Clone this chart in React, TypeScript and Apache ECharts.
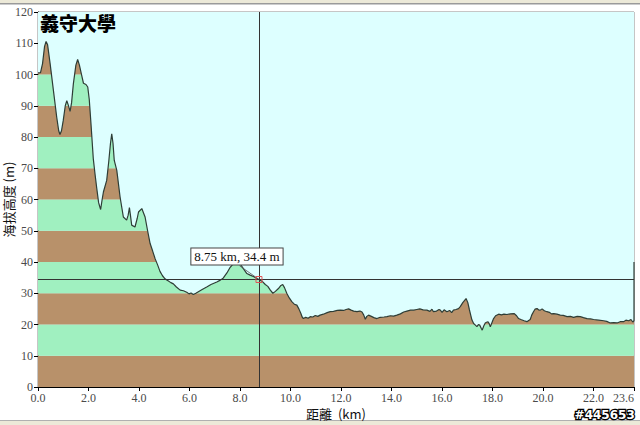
import React, { useEffect, useRef } from 'react';
import * as echarts from 'echarts';

// Elevation profile (distance in km, elevation in m)
const distanceKm = [
  0.0, 0.1, 0.18, 0.26, 0.32, 0.38, 0.48, 0.61, 0.74, 0.82, 0.87, 0.93, 1.0, 1.08, 1.14, 1.2, 1.27, 1.33, 1.4, 1.5,
  1.57, 1.64, 1.73, 1.8, 1.9, 1.97, 2.03, 2.1, 2.19, 2.26, 2.32, 2.4, 2.48, 2.54, 2.59, 2.72, 2.8, 2.87, 2.92, 2.97,
  3.02, 3.12, 3.25, 3.38, 3.51, 3.57, 3.62, 3.66, 3.71, 3.84, 3.93, 3.98, 4.11, 4.24, 4.34, 4.44, 4.54, 4.64, 4.74, 4.83,
  4.93, 5.03, 5.15, 5.26, 5.36, 5.48, 5.63, 5.76, 5.89, 5.98, 6.06, 6.15, 6.25, 6.35, 6.5, 6.68, 6.85, 7.08, 7.22, 7.34,
  7.48, 7.61, 7.72, 7.82, 7.92, 8.02, 8.14, 8.27, 8.4, 8.55, 8.65, 8.75, 8.88, 9.0, 9.1, 9.2, 9.3, 9.4, 9.52, 9.62,
  9.69, 9.76, 9.85, 9.95, 10.05, 10.15, 10.25, 10.33, 10.41, 10.46, 10.51, 10.6, 10.7, 10.78, 10.88, 10.98, 11.08, 11.17, 11.3, 11.45,
  11.57, 11.7, 11.85, 11.97, 12.1, 12.2, 12.3, 12.4, 12.5, 12.63, 12.75, 12.83, 12.9, 12.96, 13.02, 13.09, 13.2, 13.3, 13.42, 13.55,
  13.7, 13.82, 13.95, 14.08, 14.21, 14.35, 14.48, 14.61, 14.75, 14.88, 15.0, 15.12, 15.25, 15.4, 15.52, 15.6, 15.66, 15.78, 15.88, 15.93,
  16.0, 16.08, 16.19, 16.3, 16.38, 16.45, 16.55, 16.65, 16.72, 16.82, 16.95, 17.02, 17.08, 17.12, 17.18, 17.25, 17.32, 17.38, 17.44, 17.49,
  17.55, 17.59, 17.65, 17.71, 17.76, 17.82, 17.87, 17.91, 17.97, 18.04, 18.12, 18.24, 18.35, 18.45, 18.57, 18.7, 18.86, 18.95, 19.03, 19.12,
  19.25, 19.36, 19.43, 19.49, 19.55, 19.62, 19.68, 19.76, 19.82, 19.89, 19.96, 20.05, 20.15, 20.25, 20.33, 20.42, 20.55, 20.68, 20.8, 20.95,
  21.08, 21.21, 21.35, 21.47, 21.6, 21.74, 21.88, 22.0, 22.2, 22.4, 22.52, 22.66, 22.8, 22.93, 23.05, 23.19, 23.28, 23.39, 23.48, 23.55,
  23.6, 23.6,
];
const elevationM = [
  100.5, 100.6, 103.5, 109.0, 110.6, 109.5, 103.5, 94.9, 86.4, 82.0, 80.8, 82.0, 85.3, 90.0, 91.6, 90.2, 88.2, 91.0, 97.0, 103.0,
  104.8, 103.0, 99.7, 97.2, 96.8, 96.0, 92.0, 84.0, 73.0, 68.0, 64.0, 59.0, 56.8, 60.0, 62.4, 66.1, 72.0, 78.0, 81.0, 78.0,
  72.5, 69.3, 60.8, 54.4, 53.4, 55.0, 57.4, 55.0, 51.8, 51.2, 54.0, 56.0, 57.1, 54.4, 50.0, 45.9, 43.5, 41.0, 39.0, 37.0,
  35.6, 34.6, 34.0, 33.4, 33.0, 32.0, 31.0, 30.8, 30.3, 29.8, 30.1, 29.6, 30.0, 30.5, 31.2, 32.0, 32.8, 33.6, 34.2, 34.9,
  36.5, 38.3, 39.3, 39.6, 39.9, 39.2, 37.8, 36.3, 35.8, 35.3, 34.8, 34.4, 33.8, 32.8, 32.2, 31.0, 30.0, 30.6, 31.5, 32.5,
  32.8, 31.8, 30.0, 28.5, 27.3, 26.5, 26.2, 25.0, 23.5, 22.4, 21.9, 22.3, 22.0, 22.5, 22.4, 22.9, 22.6, 23.0, 23.3, 23.8,
  24.1, 24.2, 24.5, 24.6, 24.5, 24.8, 25.0, 24.6, 24.3, 24.1, 24.3, 24.0, 23.0, 21.7, 22.6, 23.0, 22.6, 22.2, 21.9, 22.3,
  22.4, 22.5, 22.8, 22.7, 23.0, 23.4, 24.0, 24.3, 24.6, 24.6, 24.8, 25.0, 24.7, 24.6, 24.2, 24.9, 24.1, 24.3, 24.8, 24.6,
  23.9, 24.7, 24.1, 24.5, 23.8, 24.6, 24.8, 25.1, 25.7, 27.0, 28.3, 27.0, 24.8, 23.5, 21.5, 20.3, 19.8, 19.3, 20.0, 19.8,
  18.8, 18.2, 19.5, 20.5, 20.7, 20.9, 20.2, 19.3, 20.5, 21.9, 22.8, 23.3, 23.1, 23.3, 23.2, 23.4, 23.5, 22.8, 21.9, 21.6,
  21.2, 20.9, 21.3, 21.6, 23.0, 24.1, 24.9, 25.1, 24.7, 24.6, 25.0, 24.4, 24.1, 23.9, 23.4, 23.5, 23.3, 23.0, 22.9, 22.5,
  22.6, 22.3, 22.6, 22.5, 22.2, 21.9, 21.8, 21.6, 21.4, 21.2, 21.0, 20.5, 20.6, 20.5, 20.9, 20.9, 21.4, 21.2, 21.6, 20.8,
  21.2, 40.0,
];

// Alternating elevation bands (m)
const bandEdges = [0, 10, 20, 30, 40, 50, 60, 70, 80, 90, 100, 110, 120];
const bandColors = ['#b8916a', '#a0f0c0'];

// Cursor readout
const cursorKm = 8.75;
const cursorM = 34.4;
const cursorText = '8.75 km, 34.4 m';
const calloutFrom = [7.98, 38.8];

const titleText = '義守大學';
const xName = '距離  (km)';
const yName = '海拔高度 (m)';
const watermark = '#445653';

const SKY = '#ddffff';
const SERIF = '"Liberation Serif", "DejaVu Serif", serif';
const CJK = '"Noto Sans CJK TC", "Noto Sans CJK SC", sans-serif';

export default function App() {
  const ref = useRef<HTMLDivElement>(null);

  useEffect(() => {
    if (!ref.current) return;
    const chart = echarts.init(ref.current, null, { renderer: 'svg' });
    const points = distanceKm.map((d, i) => [d, elevationM[i]]);
    const bandAreas = bandEdges.slice(0, -1).map((lo, i) => [
      { yAxis: lo, itemStyle: { color: bandColors[i % 2] } },
      { yAxis: bandEdges[i + 1] },
    ]);

    chart.setOption({
      animation: false,
      backgroundColor: '#ffffff',
      grid: {
        left: 38,
        top: 12,
        width: 596,
        height: 375,
        containLabel: false,
        outerBoundsMode: 'none',
        show: true,
        backgroundColor: SKY,
        borderColor: '#8c8c8c',
        borderWidth: 1,
      },
      xAxis: {
        type: 'value',
        min: 0,
        max: 23.6,
        interval: 2,
        splitLine: { show: false },
        axisLine: { lineStyle: { color: '#000', width: 1 } },
        axisTick: { show: true, length: 4, lineStyle: { color: '#000' } },
        axisLabel: {
          formatter: (v: number) => v.toFixed(1),
          color: '#4a4a4a',
          fontFamily: SERIF,
          fontSize: 12,
          lineHeight: 12,
          margin: 5,
          alignMaxLabel: 'right',
        },
        name: xName,
        nameLocation: 'middle',
        nameGap: 19,
        nameMoveOverlap: false,
        nameTextStyle: { color: '#111', fontFamily: CJK, fontSize: 13, lineHeight: 14 },
      },
      yAxis: {
        type: 'value',
        min: 0,
        max: 120,
        interval: 10,
        splitLine: { show: false },
        axisLine: { show: true, lineStyle: { color: '#000', width: 1 } },
        axisTick: { show: true, length: 4, lineStyle: { color: '#000' } },
        axisLabel: {
          color: '#4a4a4a',
          fontFamily: SERIF,
          fontSize: 12,
          margin: 5,
        },
        name: yName,
        nameLocation: 'middle',
        nameRotate: 90,
        nameGap: 23,
        nameMoveOverlap: false,
        nameTextStyle: { color: '#111', fontFamily: CJK, fontSize: 13 },
      },
      series: [
        {
          type: 'line',
          data: points,
          symbol: 'none',
          silent: true,
          lineStyle: { color: '#2e3d36', width: 1.2 },
          areaStyle: { color: SKY, opacity: 1, origin: 'end' },
          markArea: { silent: true, data: bandAreas },
          markLine: {
            silent: true,
            symbol: ['none', 'none'],
            label: { show: false },
            lineStyle: { color: '#333', width: 1, type: 'solid' },
            data: [
              { xAxis: cursorKm },
              { yAxis: cursorM },
              [
                { coord: calloutFrom, lineStyle: { color: '#555', width: 0.8, type: 'solid' } },
                { coord: [cursorKm - 0.03, cursorM + 0.2] },
              ],
            ],
          },
          markPoint: {
            silent: true,
            symbol: 'rect',
            symbolSize: 6,
            itemStyle: { color: 'rgba(255,255,255,0)', borderColor: '#e05555', borderWidth: 1 },
            label: {
              show: true,
              position: 'inside',
              offset: [-22, -23],
              formatter: cursorText,
              color: '#111',
              fontFamily: SERIF,
              fontSize: 13,
              backgroundColor: '#fff',
              borderColor: '#444',
              borderWidth: 1,
              padding: [2, 3, 1, 3],
            },
            data: [{ coord: [cursorKm, cursorM] }],
          },
        },
      ],
      graphic: [
        { type: 'rect', shape: { x: 0, y: 0, width: 640, height: 3 }, style: { fill: '#ece9d8' }, silent: true },
        { type: 'rect', shape: { x: 0, y: 3, width: 640, height: 1.5 }, style: { fill: '#9a9a9a' }, silent: true },
        { type: 'rect', shape: { x: 0, y: 421, width: 640, height: 4 }, style: { fill: '#ece9d8' }, silent: true },
        { type: 'rect', shape: { x: 0, y: 420, width: 640, height: 1 }, style: { fill: '#b0b0b0' }, silent: true },
        {
          type: 'text',
          left: 40,
          top: 13,
          z: 10,
          style: { text: titleText, font: `900 19px ${CJK}`, fill: '#000' },
        },
        {
          type: 'text',
          right: 4,
          bottom: 3,
          z: 10,
          style: {
            text: watermark,
            font: 'bold 12px "DejaVu Sans", sans-serif',
            fill: '#fff',
            stroke: '#000',
            lineWidth: 2.5,
            strokeFirst: true,
          },
        },
      ],
    });
    return () => chart.dispose();
  }, []);

  return (
    <div
      ref={ref}
      style={{ position: 'fixed', left: 0, top: 0, width: 640, height: 425, background: '#fff' }}
    />
  );
}
